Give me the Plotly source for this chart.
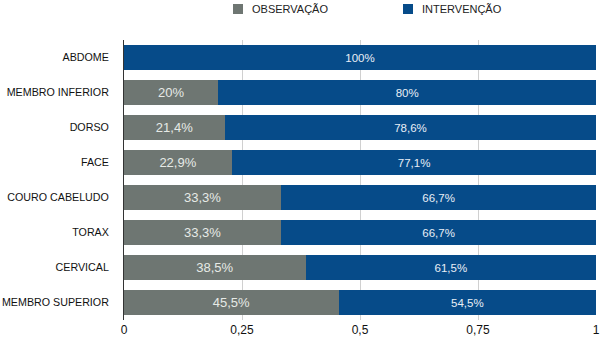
import plotly.graph_objects as go

categories = ["ABDOME", "MEMBRO INFERIOR", "DORSO", "FACE", "COURO CABELUDO", "TORAX", "CERVICAL", "MEMBRO SUPERIOR"]
observacao = [0.0, 0.20, 0.214, 0.229, 0.333, 0.333, 0.385, 0.455]
intervencao = [1.0, 0.80, 0.786, 0.771, 0.667, 0.667, 0.615, 0.545]
obs_labels = ["", "20%", "21,4%", "22,9%", "33,3%", "33,3%", "38,5%", "45,5%"]
int_labels = ["100%", "80%", "78,6%", "77,1%", "66,7%", "66,7%", "61,5%", "54,5%"]
tick_vals = [0, 0.25, 0.5, 0.75, 1]
tick_text = ["0", "0,25", "0,5", "0,75", "1"]
series_names = ["OBSERVAÇÃO", "INTERVENÇÃO"]
series_colors = ["#6e7672", "#064b89"]

fig = go.Figure()
fig.add_trace(go.Bar(
    y=categories, x=observacao, orientation="h", name=series_names[0],
    marker=dict(color=series_colors[0], line=dict(width=0)),
    text=obs_labels, textposition="inside", insidetextanchor="middle",
    textfont=dict(color="#e6eae6", size=13), hoverinfo="skip", showlegend=False,
))
fig.add_trace(go.Bar(
    y=categories, x=intervencao, orientation="h", name=series_names[1],
    marker=dict(color=series_colors[1], line=dict(width=0)),
    text=int_labels, textposition="inside", insidetextanchor="middle",
    textfont=dict(color="#e8eef6", size=11.5), hoverinfo="skip", showlegend=False,
))

# manual legend (placed above the plot area)
legend_sq_x = [0.2309, 0.5911]
legend_txt_x = [0.267, 0.627]
for name, color, sx, tx in zip(series_names, series_colors, legend_sq_x, legend_txt_x):
    fig.add_shape(type="rect", xref="paper", yref="paper",
                  x0=sx, x1=sx + 0.0212, y0=1.0929, y1=1.1286,
                  fillcolor=color, line=dict(width=0))
    fig.add_annotation(xref="paper", yref="paper", x=tx, y=1.1107,
                       text=name, showarrow=False, xanchor="left", yanchor="middle",
                       font=dict(size=11, color="#222222"))

fig.update_layout(
    width=600, height=338, barmode="stack", bargap=0.3,
    margin=dict(l=124, r=4, t=40, b=18),
    paper_bgcolor="white", plot_bgcolor="white",
    font=dict(family="Liberation Sans, Arial, sans-serif", color="#222222", size=11),
    showlegend=False,
    xaxis=dict(range=[0, 1.0], tickvals=tick_vals, ticktext=tick_text,
               showgrid=True, gridcolor="#d0d0d0", gridwidth=1,
               zeroline=False, showline=False, ticks="", ticklabelstandoff=1,
               tickfont=dict(size=12, color="#111"), automargin=False),
    yaxis=dict(autorange="reversed", showline=True, linecolor="#333", linewidth=1,
               ticks="", ticklabelstandoff=12, tickfont=dict(size=10.7, color="#111"),
               automargin=False),
)
fig.write_html("out.html")
